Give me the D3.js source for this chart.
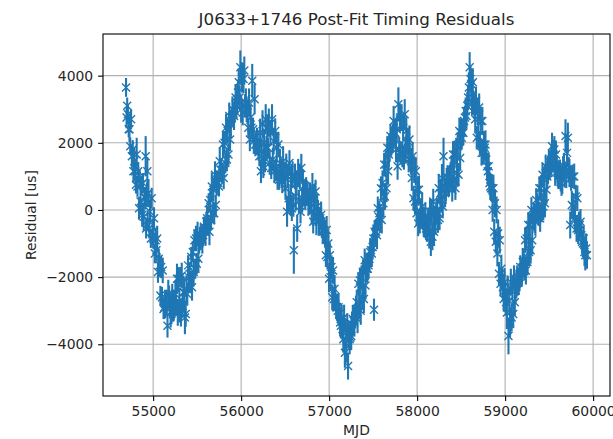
<!DOCTYPE html>
<html>
<head>
<meta charset="utf-8">
<script src="https://cdn.jsdelivr.net/npm/d3@7"></script>
<style>
  body { margin: 0; background: #fff; }
  text { font-family: "DejaVu Sans", sans-serif; }
</style>
</head>
<body>
<div id="chart"></div>
<script>
// TOA epochs (MJD), post-fit residuals and uncertainties (us)
const mjd = [
  54692,54698,54705,54713,54722,54731,54740,54749,54758,54768,
  54776,54786,54795,54805,54813,54822,54831,54840,54848,54857,
  54866,54875,54884,54893,54902,54911,54915,54920,54929,54934,54938,54947,
  54956,54965,54974,54983,54992,55001,55010,55019,55028,55037,
  55046,55055,55064,55073,55082,55091,55100,55109,55118,55127,
  55136,55145,55154,55163,55172,55181,55190,55199,55208,55217,
  55226,55235,55244,55253,55262,55271,55280,55289,55298,55307,
  55316,55325,55334,55343,55352,55361,55370,55379,55388,55397,
  55406,55415,55424,55433,55442,55451,55460,55469,55478,55487,
  55496,55505,55514,55523,55532,55541,55550,55559,55568,55577,
  55586,55595,55604,55613,55622,55631,55640,55649,55658,55667,
  55676,55685,55694,55703,55712,55721,55730,55739,55748,55757,
  55766,55775,55784,55793,55802,55811,55820,55829,55838,55847,
  55856,55865,55874,55883,55892,55901,55910,55919,55928,55937,
  55946,55955,55964,55973,55982,55991,56000,56009,56018,56027,
  56036,56045,56054,56063,56072,56081,56090,56099,56108,56117,
  56126,56135,56144,56153,56162,56171,56180,56189,56198,56207,
  56216,56225,56234,56243,56252,56261,56270,56279,56288,56297,
  56306,56315,56324,56333,56342,56351,56360,56369,56378,56387,
  56396,56405,56414,56423,56432,56441,56450,56459,56468,56477,
  56486,56495,56504,56513,56522,56531,56540,56549,56558,56567,
  56576,56585,56594,56599,56612,56621,56630,56637,56648,56657,
  56666,56675,56684,56693,56702,56711,56720,56729,56738,56747,
  56756,56765,56774,56783,56792,56801,56810,56819,56828,56837,
  56846,56855,56864,56873,56882,56891,56900,56909,56918,56927,
  56936,56945,56954,56963,56972,56981,56990,56999,57008,57017,
  57026,57035,57044,57053,57062,57071,57080,57089,57098,57107,
  57116,57125,57134,57143,57152,57161,57170,57179,57188,57197,
  57206,57215,57224,57233,57242,57251,57260,57269,57278,57287,
  57296,57305,57314,57323,57332,57341,57350,57359,57368,57377,
  57386,57395,57404,57413,57422,57431,57440,57449,57458,57467,
  57476,57485,57494,57503,57510,57517,57526,57535,57544,57553,
  57562,57571,57580,57589,57598,57607,57616,57625,57634,57643,
  57652,57661,57670,57679,57688,57697,57706,57715,57724,57733,
  57742,57751,57760,57769,57778,57787,57796,57805,57814,57823,
  57832,57841,57850,57859,57868,57877,57886,57895,57904,57913,
  57922,57931,57940,57949,57958,57967,57976,57985,57994,58003,
  58012,58021,58030,58039,58048,58057,58066,58075,58084,58093,
  58102,58111,58120,58129,58138,58147,58156,58165,58174,58183,
  58192,58201,58210,58219,58228,58237,58246,58255,58264,58273,
  58282,58291,58300,58309,58318,58327,58336,58345,58354,58363,
  58372,58381,58390,58399,58408,58417,58426,58435,58444,58453,
  58462,58471,58480,58489,58498,58507,58516,58525,58534,58543,
  58552,58561,58570,58579,58588,58597,58606,58615,58624,58633,
  58642,58651,58660,58669,58678,58687,58696,58705,58714,58723,
  58732,58741,58750,58759,58768,58777,58786,58795,58804,58813,
  58822,58831,58840,58849,58858,58867,58876,58885,58894,58903,
  58912,58921,58930,58939,58948,58957,58966,58975,58984,58993,
  59002,59011,59020,59029,59038,59047,59056,59065,59074,59083,
  59092,59101,59110,59119,59128,59137,59146,59155,59164,59173,
  59182,59191,59200,59209,59218,59227,59236,59245,59254,59263,
  59272,59281,59290,59299,59308,59317,59326,59335,59344,59353,
  59362,59371,59380,59389,59398,59407,59416,59425,59434,59443,
  59452,59461,59470,59479,59488,59497,59506,59515,59524,59533,
  59542,59551,59560,59569,59578,59587,59596,59605,59614,59623,
  59632,59641,59650,59659,59668,59677,59686,59695,59704,59713,
  59722,59731,59740,59749,59758,59767,59776,59785,59794,59803,
  59812,59821,59830,59839,59848,59857,59866,59875,59884,59893,
  59902,59911,59920,59930
]
const resid = [
  3650,2750,3100,2850,2400,2400,1900,2700,1600,1800,
  1150,1450,1150,750,1650,700,1150,50,900,250,
  750,-150,800,-200,400,350,1600,-550,450,1150,-300,500,
  -550,-50,-850,350,-650,-850,-250,-1300,-900,-1200,
  -850,-1850,-1450,-1650,-2550,-1700,-2600,-1800,-2950,-2900,
  -2800,-2850,-2750,-3450,-2500,-2550,-2850,-3050,-3000,-2550,
  -2850,-3000,-2800,-2500,-2850,-2050,-3050,-2050,-2850,-2000,
  -3050,-1950,-2850,-2450,-2450,-3200,-3100,-2350,-2500,-1650,
  -2000,-1900,-2150,-1400,-2300,-1250,-1850,-900,-1750,-850,
  -1600,-700,-1450,-1000,-850,-800,-800,-900,-750,-500,
  -650,-650,-350,-250,-450,200,-650,300,-300,700,
  -100,600,-100,1050,150,800,850,800,700,1450,
  1200,1200,1100,1950,950,2000,1400,2450,1500,2350,
  1650,2800,2100,2550,2750,3000,2850,2800,2950,3350,
  3100,3300,3500,3800,3350,4250,3000,3950,2900,3900,
  4150,3100,3200,3000,2900,2450,3200,2100,2750,2450,
  3850,2400,2050,3300,1950,1950,2050,2000,1800,1600,
  2300,1150,1750,2550,1300,2000,1450,2700,1850,2450,
  1850,2600,1400,2300,1250,2700,1500,2050,1150,2350,
  1200,1850,950,1950,900,1400,1250,1050,850,1450,
  1100,950,650,1300,-50,1000,350,1400,200,900,
  50,1050,150,-1200,1000,400,800,-550,1100,250,
  1000,-50,1250,300,850,500,500,350,550,500,
  500,250,250,400,300,-50,700,-350,350,50,
  550,-350,100,-50,-350,-300,-250,-150,-450,-600,
  -650,-600,-700,-1350,-600,-1400,-1000,-2050,-1350,-2000,
  -1700,-2600,-1800,-2650,-2350,-2600,-2900,-2900,-3000,-2900,
  -3100,-3350,-3450,-3250,-3550,-3850,-3200,-4250,-3650,-4050,
  -3500,-4650,-3700,-3850,-3800,-3750,-3400,-3250,-3300,-3350,
  -3150,-2950,-2750,-3250,-2200,-2850,-2100,-3000,-2000,-2550,
  -1850,-2650,-1500,-2250,-1650,-1750,-1750,-1650,-1450,-1250,
  -1200,-1300,-1100,-850,-2970,-650,-700,-650,-750,50,
  -200,-100,-250,650,-300,800,200,1350,400,1350,
  650,1850,1150,1650,1850,2200,2000,2100,2150,2650,
  2300,2300,1800,2400,1300,3150,1800,2750,1700,2750,
  1650,2450,1550,2850,1800,2350,2000,2050,1500,2100,
  1500,1450,950,1600,350,1200,250,1150,-100,600,
  -400,600,-350,-50,-100,100,-250,-400,-450,-200,
  -550,-550,-400,-350,-750,-50,-950,-50,-800,250,
  -650,-250,-300,-50,-50,-300,650,-250,500,300,
  950,100,1600,700,500,600,850,950,850,750,
  950,1050,1200,600,1650,900,1650,650,1750,1100,
  1900,1050,2350,1550,2300,2150,2300,2300,2650,2750,
  2950,2800,3100,3350,3650,4250,3900,3750,3200,3800,
  3200,3100,2700,3250,2150,2950,2200,3050,2000,2650,
  1700,2650,1700,1950,1850,1950,1500,1300,1150,1300,
  800,700,650,650,0,650,-650,200,-950,0,
  -1300,-700,-1900,-900,-2200,-1750,-2050,-2300,-2650,-2150,
  -2600,-2750,-3050,-2400,-3750,-2700,-3350,-2150,-3200,-2350,
  -3100,-2000,-2750,-2400,-2200,-2000,-2150,-2150,-2000,-1700,
  -1900,-1850,-1550,-1500,-1700,-900,-1800,-850,-1550,-450,
  -1250,-450,-1200,0,-900,-250,-200,-300,-350,300,
  100,50,-50,650,-250,650,50,1050,100,900,
  200,1300,600,1000,1200,1450,1300,1350,1450,1900,
  1500,1650,1800,1100,1650,1250,1100,1000,1050,1150,
  950,800,900,1250,1300,1050,2200,1050,1700,2150,
  1200,1100,-450,950,150,1000,100,1000,-250,400,
  -550,350,-600,-400,-450,-350,-750,-950,-1000,-850,
  -1250,-1350,-1150,-1350
]
const errUs = [
  280,320,250,300,240,380,260,300,330,280,
  350,420,300,260,500,310,280,340,290,400,
  270,350,300,420,280,330,600,300,360,420,290,420,
  300,350,280,310,400,300,330,290,360,300,
  380,320,300,350,290,330,310,380,300,340,
  420,300,380,350,420,300,380,450,400,350,
  480,300,420,380,300,450,400,350,500,300,
  420,380,350,500,420,500,380,400,350,300,
  420,350,330,300,400,300,380,320,300,380,
  320,350,420,300,350,380,300,400,330,300,
  350,420,300,380,320,300,400,350,300,420,
  300,350,330,400,300,380,320,350,300,420,
  320,350,300,400,330,350,300,420,350,380,
  330,400,350,420,300,380,330,420,350,400,
  380,450,380,420,350,500,400,450,380,420,
  420,350,420,380,350,300,420,350,380,300,
  500,350,380,450,350,300,400,350,330,300,
  420,350,380,420,350,400,330,450,350,400,
  300,420,350,380,330,450,350,400,350,380,
  330,450,350,380,300,420,350,400,350,450,
  330,400,350,380,450,350,400,380,350,420,
  380,400,350,700,380,420,350,400,420,350,
  380,350,420,380,350,400,380,350,420,380,
  350,400,380,420,350,380,400,350,420,380,
  350,400,380,350,420,380,350,400,380,420,
  350,380,400,350,420,380,350,400,380,420,
  350,380,400,350,420,380,350,400,380,420,
  350,400,380,420,350,400,380,450,400,500,
  420,400,400,450,380,420,350,400,380,420,
  350,400,380,420,350,400,380,420,350,400,
  380,420,350,400,380,420,350,400,380,420,
  350,400,380,420,330,350,400,380,420,350,
  400,380,420,350,400,380,420,350,400,380,
  420,350,400,380,420,350,400,380,420,450,
  400,420,380,420,400,500,380,420,350,400,
  380,420,350,450,380,420,350,400,380,420,
  350,400,380,420,350,400,380,420,350,400,
  380,420,350,400,380,420,350,400,380,420,
  350,400,380,420,400,380,420,350,400,380,
  420,380,420,350,400,380,420,350,400,380,
  420,350,550,380,420,350,400,380,420,350,
  400,380,420,350,400,380,420,350,400,380,
  420,350,400,380,420,350,400,380,420,350,
  400,380,420,380,450,450,400,420,380,420,
  350,400,380,420,350,400,380,420,350,400,
  380,420,350,400,380,420,350,400,380,420,
  350,400,380,420,350,400,380,420,350,400,
  380,420,350,400,380,420,350,400,380,420,
  450,400,500,450,550,420,450,400,420,380,
  420,350,400,380,420,350,400,380,420,350,
  400,380,420,350,400,380,420,350,400,380,
  420,350,400,380,420,350,400,380,420,350,
  400,380,420,350,400,380,420,350,400,380,
  420,350,400,380,420,350,400,380,420,400,
  380,450,400,380,420,350,400,380,420,350,
  400,380,420,350,400,380,500,400,420,450,
  380,420,400,380,420,350,400,380,420,350,
  400,380,420,350,400,380,420,350,400,380,
  420,450,450,400
]
const xTicks = [55000, 56000, 57000, 58000, 59000, 60000]
const yTicks = [-4000, -2000, 0, 2000, 4000]

const width = 613
const height = 439
const margin = { top: 34, right: 3, bottom: 43, left: 103 }
const blue = '#1f77b4'

const svg = d3.select('#chart').append('svg')
  .attr('width', width)
  .attr('height', height)
  .style('display', 'block')

const toas = mjd.map((m, i) => ({ m: m, r: resid[i], e: errUs[i] }))

// matplotlib-like 5% padding on autoscaled limits
const xLo = d3.min(mjd), xHi = d3.max(mjd)
const yLo = d3.min(toas, d => d.r - d.e), yHi = d3.max(toas, d => d.r + d.e)
const xPad = (xHi - xLo) * 0.05, yPad = (yHi - yLo) * 0.05

const x = d3.scaleLinear()
  .domain([xLo - xPad, xHi + xPad])
  .range([margin.left, width - margin.right])
const y = d3.scaleLinear()
  .domain([yLo - yPad, yHi + yPad])
  .range([height - margin.bottom, margin.top])

// grid
svg.append('g').selectAll('line')
  .data(xTicks)
  .enter().append('line')
  .attr('x1', d => x(d)).attr('x2', d => x(d))
  .attr('y1', margin.top).attr('y2', height - margin.bottom)
  .attr('stroke', '#b0b0b0').attr('stroke-width', 1.1)
svg.append('g').selectAll('line')
  .data(yTicks)
  .enter().append('line')
  .attr('x1', margin.left).attr('x2', width - margin.right)
  .attr('y1', d => y(d)).attr('y2', d => y(d))
  .attr('stroke', '#b0b0b0').attr('stroke-width', 1.1)

// error bars
svg.append('g').selectAll('line')
  .data(toas)
  .enter().append('line')
  .attr('x1', d => x(d.m)).attr('x2', d => x(d.m))
  .attr('y1', d => y(d.r - d.e)).attr('y2', d => y(d.r + d.e))
  .attr('stroke', blue).attr('stroke-width', 2.1)

// 'x' markers
svg.append('g').selectAll('path')
  .data(toas)
  .enter().append('path')
  .attr('transform', d => 'translate(' + x(d.m) + ',' + y(d.r) + ')')
  .attr('d', 'M-4,-4L4,4M-4,4L4,-4')
  .attr('stroke', blue).attr('stroke-width', 1.4).attr('fill', 'none')

// axes
const fmt = d3.format('d')
const xAxis = svg.append('g')
  .attr('transform', 'translate(0,' + (height - margin.bottom) + ')')
  .call(d3.axisBottom(x).tickValues(xTicks).tickFormat(fmt).tickSize(4.9).tickPadding(4.9))
const yAxis = svg.append('g')
  .attr('transform', 'translate(' + margin.left + ',0)')
  .call(d3.axisLeft(y).tickValues(yTicks).tickFormat(fmt).tickSize(4.9).tickPadding(4.9))
xAxis.select('.domain').remove()
yAxis.select('.domain').remove()
svg.selectAll('.tick line').attr('stroke', '#000').attr('stroke-width', 1.1)
svg.selectAll('.tick text')
  .attr('fill', '#262626')
  .style('font-family', '"DejaVu Sans", sans-serif')
  .style('font-size', '13.9px')

// spines
svg.append('rect')
  .attr('x', margin.left).attr('y', margin.top)
  .attr('width', width - margin.left - margin.right)
  .attr('height', height - margin.top - margin.bottom)
  .attr('fill', 'none').attr('stroke', '#000').attr('stroke-width', 1.1)

// labels
svg.append('text')
  .attr('x', (margin.left + width - margin.right) / 2)
  .attr('y', 25)
  .attr('text-anchor', 'middle')
  .style('font-size', '16.7px')
  .attr('fill', '#262626')
  .text('J0633+1746 Post-Fit Timing Residuals')

svg.append('text')
  .attr('x', (margin.left + width - margin.right) / 2)
  .attr('y', 435)
  .attr('text-anchor', 'middle')
  .style('font-size', '13.9px')
  .attr('fill', '#262626')
  .text('MJD')

svg.append('text')
  .attr('transform', 'translate(36,' + ((margin.top + height - margin.bottom) / 2) + ') rotate(-90)')
  .attr('text-anchor', 'middle')
  .style('font-size', '13.9px')
  .attr('fill', '#262626')
  .text('Residual [us]')
</script>
</body>
</html>
